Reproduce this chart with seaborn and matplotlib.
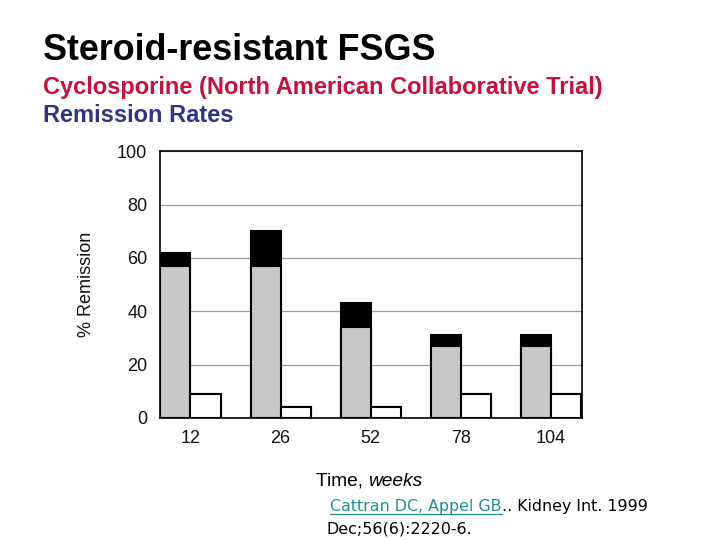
import matplotlib
matplotlib.use("Agg")
import matplotlib.pyplot as plt
import seaborn as sns
import pandas as pd
from matplotlib.lines import Line2D

weeks = ["12", "26", "52", "78", "104"]
csa_partial = [57, 57, 34, 27, 27]
csa_total = [62, 70, 43, 31, 31]
placebo = [9, 4, 4, 9, 9]
yticks = [0, 20, 40, 60, 80, 100]

sns.set_theme(style="white")
plt.rcParams['font.family'] = ['Liberation Sans', 'DejaVu Sans']

groups = ["Cyclosporine", "Placebo"]
df_total = pd.DataFrame({
    "week": weeks * 2,
    "group": [groups[0]] * 5 + [groups[1]] * 5,
    "value": csa_total + placebo,
})
df_partial = pd.DataFrame({
    "week": weeks * 2,
    "group": [groups[0]] * 5 + [groups[1]] * 5,
    "value": csa_partial + placebo,
})

fig = plt.figure(figsize=(7.2, 5.4), dpi=100)
ax = fig.add_axes([0.222, 0.226, 0.586, 0.494])

sns.barplot(data=df_total, x="week", y="value", hue="group", hue_order=groups,
            order=weeks, palette=["black", "white"], width=0.667, edgecolor="black",
            linewidth=1.5, ax=ax, legend=False, errorbar=None, saturation=1, zorder=2)
sns.barplot(data=df_partial, x="week", y="value", hue="group", hue_order=groups,
            order=weeks, palette=["#c8c8c8", "white"], width=0.667, edgecolor="black",
            linewidth=1.5, ax=ax, legend=False, errorbar=None, saturation=1, zorder=3)

ax.set_ylim(0, 100)
ax.set_xlim(-0.34, 4.34)
ax.set_yticks(yticks)
ax.set_yticklabels([str(v) for v in yticks])
ax.yaxis.grid(True, color="#9a9a9a", linewidth=0.9)
ax.set_axisbelow(True)
for s in ax.spines.values():
    s.set_visible(True)
    s.set_color("black")
    s.set_linewidth(1.2)
ax.tick_params(axis="both", length=0, labelsize=13, colors="#111111")
ax.tick_params(axis="x", pad=9)
ax.tick_params(axis="y", pad=9)
ax.set_xlabel("")
ax.set_ylabel("% Remission", fontsize=13, color="#111111", labelpad=16)

# Titles
fig.text(43/720, 1 - 60/540, "Steroid-resistant FSGS", fontsize=25.8, fontweight="bold",
         color="black", va="baseline", ha="left")
fig.text(43/720, 1 - 94/540, "Cyclosporine (North American Collaborative Trial)",
         fontsize=17, fontweight="bold", color="#c8103a", va="baseline", ha="left")
fig.text(43/720, 1 - 122/540, "Remission Rates", fontsize=17, fontweight="bold",
         color="#333385", va="baseline", ha="left")

fig.canvas.draw()
r = fig.canvas.get_renderer()

# X label: "Time, weeks"
t1 = fig.text(316/720, 1 - 486/540, "Time, ", fontsize=13.8, color="black", va="baseline")
bb = t1.get_window_extent(r)
fig.text(bb.x1 / fig.bbox.width, 1 - 486/540, "weeks", fontsize=13.8, style="italic",
         color="black", va="baseline")

# Citation
cfont = dict(fontsize=11.4, family="DejaVu Sans", va="baseline")
c1 = fig.text(330/720, 1 - 511/540, "Cattran DC, Appel GB", color="#1f8f8f", **cfont)
bb1 = c1.get_window_extent(r)
fig.text(bb1.x1 / fig.bbox.width, 1 - 511/540, ".. Kidney Int. 1999", color="black", **cfont)
fig.add_artist(Line2D([bb1.x0 / fig.bbox.width, bb1.x1 / fig.bbox.width],
                      [(1 - 511/540) - 3/540] * 2, color="#1f8f8f", linewidth=0.9))
fig.text(326/720, 1 - 533/540, "Dec;56(6):2220-6.", color="black", **cfont)

fig.savefig("out.png", dpi=100)
